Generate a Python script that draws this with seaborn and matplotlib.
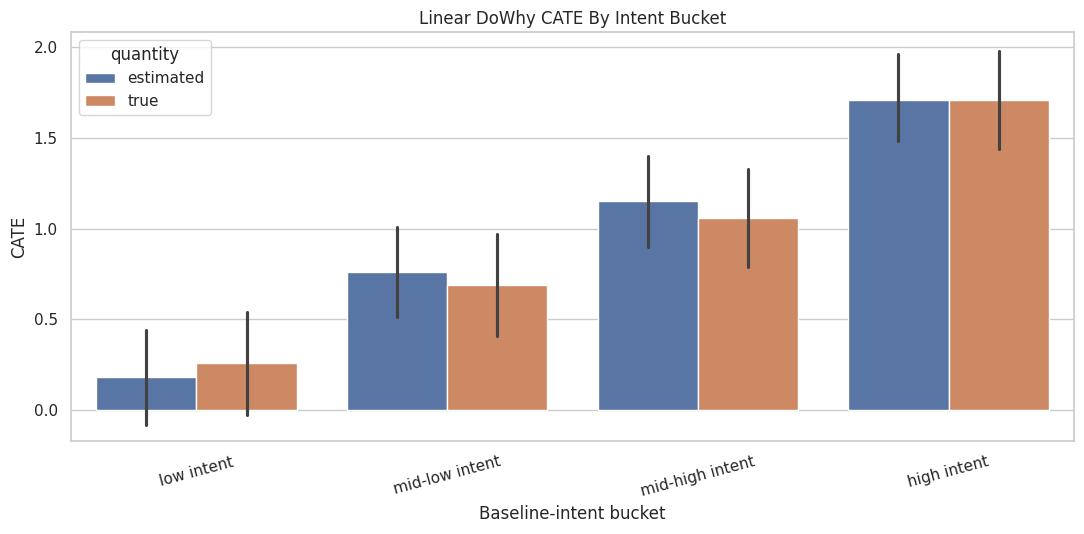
import pandas as pd
import matplotlib
matplotlib.use("Agg")
import matplotlib.pyplot as plt
import seaborn as sns

# Değerler
buckets = ["low intent", "mid-low intent", "mid-high intent", "high intent"]
estimated = [0.18, 0.76, 1.15, 1.71]
estimated_lo = [-0.08, 0.51, 0.90, 1.48]
estimated_hi = [0.44, 1.01, 1.40, 1.96]
true_vals = [0.26, 0.69, 1.06, 1.71]
true_lo = [-0.03, 0.41, 0.79, 1.44]
true_hi = [0.54, 0.97, 1.33, 1.98]

df = pd.DataFrame({
    "bucket": buckets * 2,
    "quantity": ["estimated"] * 4 + ["true"] * 4,
    "cate": estimated + true_vals,
    "lo": estimated_lo + true_lo,
    "hi": estimated_hi + true_hi,
})

sns.set_theme(style="whitegrid")

fig, ax = plt.subplots(figsize=(10.84, 5.34), dpi=100)
sns.barplot(data=df, x="bucket", y="cate", hue="quantity", order=buckets,
            hue_order=["estimated", "true"], errorbar=None, ax=ax)

# Hata çubukları: barların merkezlerine çiz
lw = 1.5 * plt.rcParams["lines.linewidth"]
for container, q in zip(ax.containers, ["estimated", "true"]):
    sub = df[df["quantity"] == q].set_index("bucket").loc[buckets]
    for patch, lo, hi in zip(container.patches, sub["lo"], sub["hi"]):
        xc = patch.get_x() + patch.get_width() / 2
        ax.plot([xc, xc], [lo, hi], color=".26", lw=lw, solid_capstyle="round")

ax.set_xlim(-0.5, len(buckets) - 0.5)
ax.set_ylim(-0.171, 2.083)
ax.set_title("Linear DoWhy CATE By Intent Bucket")
ax.set_xlabel("Baseline-intent bucket")
ax.set_ylabel("CATE")
ax.tick_params(axis="x", rotation=15)
ax.legend(title="quantity", loc="upper left")

# Eksen yerleşimi
fig.subplots_adjust(left=0.0655, right=0.9908, top=0.940, bottom=0.174)
plt.savefig("out.png", dpi=100)
